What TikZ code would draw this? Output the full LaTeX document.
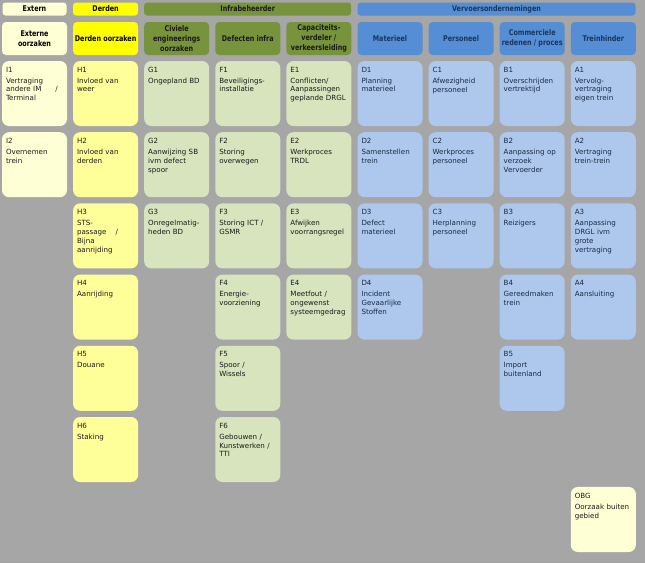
\documentclass[tikz,border=0pt]{standalone}
\usepackage{fontspec}
\newfontfamily\bodyfont{DejaVu Sans}
\newfontfamily\hdfont[FakeStretch=0.81]{DejaVu Sans}
\definecolor{bgcol}{HTML}{A6A6A6}
\definecolor{extc}{HTML}{FFFFD5}
\definecolor{derdc}{HTML}{FFFF00}
\definecolor{hcol}{HTML}{FFFF99}
\definecolor{gcol}{HTML}{D7E4BD}
\definecolor{ghead}{HTML}{77933C}
\definecolor{bhead}{HTML}{558ED5}
\definecolor{bcol}{HTML}{ADC8EC}
\definecolor{btext}{HTML}{17375E}
\definecolor{ttext}{HTML}{1A1A1A}
\definecolor{bbtext}{HTML}{1A2A44}
\tikzset{
  box/.style={shape=rectangle,inner sep=0pt,outer sep=0pt,minimum width=65pt,minimum height=65pt,rounded corners=7pt},
  lbl/.style={inner sep=0pt,outer sep=0pt,text width=60pt,align=left,font=\bodyfont\fontsize{7.1}{8.8}\selectfont},
  hdA/.style={shape=rectangle,inner sep=0pt,outer sep=0pt,minimum height=13pt,rounded corners=3pt,anchor=north west,font=\hdfont\bfseries\fontsize{7.9}{9}\selectfont},
  hdB/.style={shape=rectangle,inner sep=0pt,outer sep=0pt,minimum width=65pt,minimum height=33pt,rounded corners=4pt,anchor=north west,align=center,font=\hdfont\bfseries\fontsize{7.9}{9.7}\selectfont},
  ext/.style={fill=extc,text=ttext},
  hy/.style={fill=hcol,text=ttext},
  gr/.style={fill=gcol,text=ttext},
  bl/.style={fill=bcol,text=bbtext}
}
\newcommand\cell[6]{%
  \node[box,#4,anchor=north west] (#1) at ({2+71.1*#2},{61+71.2*#3}) {};
  \node[lbl,#4,fill=none,anchor=north west] (#1-t) at ([xshift=4pt,yshift=-6pt]#1.north west) {#5\\[2.2pt]#6};
}
\begin{document}
\begin{tikzpicture}[x=1pt,y=-1pt]
\fill[bgcol] (0,0) rectangle (645,563);
\useasboundingbox (0,0) rectangle (645,563);
% header row A
\node[hdA,fill=extc,text=black,minimum width=64pt] (hA1) at (2.5,2.5) {Extern};
\node[hdA,fill=derdc,text=black,minimum width=65pt] (hA2) at (73.1,2.5) {Derden};
\node[hdA,fill=ghead,text=ttext,minimum width=207pt] (hA3) at (144.2,2.5) {Infrabeheerder};
\node[hdA,fill=bhead,text=btext,minimum width=278pt] (hA4) at (357.5,2.5) {Vervoersondernemingen};
% header row B
\node[hdB,fill=extc,text=black] (hB1) at (2,22) {Externe\\oorzaken};
\node[hdB,fill=derdc,text=black] (hB2) at (73.1,22) {Derden oorzaken};
\node[hdB,fill=ghead,text=ttext] (hB3) at (144.2,22) {Civiele\\engineerings\\oorzaken};
\node[hdB,fill=ghead,text=ttext] (hB4) at (215.3,22) {Defecten infra};
\node[hdB,fill=ghead,text=ttext] (hB5) at (286.4,22) {Capaciteits-\\verdeler /\\verkeersleiding};
\node[hdB,fill=bhead,text=btext] (hB6) at (357.5,22) {Materieel};
\node[hdB,fill=bhead,text=btext] (hB7) at (428.6,22) {Personeel};
\node[hdB,fill=bhead,text=btext] (hB8) at (499.7,22) {Commerciele\\redenen / proces};
\node[hdB,fill=bhead,text=btext] (hB9) at (570.8,22) {Treinhinder};
% I
\cell{I1}{0}{0}{ext}{I1}{Vertraging\\andere IM\hspace{14pt}/\\Terminal}
\cell{I2}{0}{1}{ext}{I2}{Overnemen\\trein}
% H
\cell{H1}{1}{0}{hy}{H1}{Invloed van\\weer}
\cell{H2}{1}{1}{hy}{H2}{Invloed van\\derden}
\cell{H3}{1}{2}{hy}{H3}{STS-\\passage\hspace{9pt}/\\Bijna\\aanrijding}
\cell{H4}{1}{3}{hy}{H4}{Aanrijding}
\cell{H5}{1}{4}{hy}{H5}{Douane}
\cell{H6}{1}{5}{hy}{H6}{Staking}
% G
\cell{G1}{2}{0}{gr}{G1}{Ongepland BD}
\cell{G2}{2}{1}{gr}{G2}{Aanwijzing SB\\ivm defect\\spoor}
\cell{G3}{2}{2}{gr}{G3}{Onregelmatig-\\heden BD}
% F
\cell{F1}{3}{0}{gr}{F1}{Beveiligings-\\installatie}
\cell{F2}{3}{1}{gr}{F2}{Storing\\overwegen}
\cell{F3}{3}{2}{gr}{F3}{Storing ICT /\\GSMR}
\cell{F4}{3}{3}{gr}{F4}{Energie-\\voorziening}
\cell{F5}{3}{4}{gr}{F5}{Spoor /\\Wissels}
\cell{F6}{3}{5}{gr}{F6}{Gebouwen /\\Kunstwerken /\\TTI}
% E
\cell{E1}{4}{0}{gr}{E1}{Conflicten/\\Aanpassingen\\geplande DRGL}
\cell{E2}{4}{1}{gr}{E2}{Werkproces\\TRDL}
\cell{E3}{4}{2}{gr}{E3}{Afwijken\\voorrangsregel}
\cell{E4}{4}{3}{gr}{E4}{Meetfout /\\ongewenst\\systeemgedrag}
% D
\cell{D1}{5}{0}{bl}{D1}{Planning\\materieel}
\cell{D2}{5}{1}{bl}{D2}{Samenstellen\\trein}
\cell{D3}{5}{2}{bl}{D3}{Defect\\materieel}
\cell{D4}{5}{3}{bl}{D4}{Incident\\Gevaarlijke\\Stoffen}
% C
\cell{C1}{6}{0}{bl}{C1}{Afwezigheid\\personeel}
\cell{C2}{6}{1}{bl}{C2}{Werkproces\\personeel}
\cell{C3}{6}{2}{bl}{C3}{Herplanning\\personeel}
% B
\cell{B1}{7}{0}{bl}{B1}{Overschrijden\\vertrektijd}
\cell{B2}{7}{1}{bl}{B2}{Aanpassing op\\verzoek\\Vervoerder}
\cell{B3}{7}{2}{bl}{B3}{Reizigers}
\cell{B4}{7}{3}{bl}{B4}{Gereedmaken\\trein}
\cell{B5}{7}{4}{bl}{B5}{Import\\buitenland}
% A
\cell{A1}{8}{0}{bl}{A1}{Vervolg-\\vertraging\\eigen trein}
\cell{A2}{8}{1}{bl}{A2}{Vertraging\\trein-trein}
\cell{A3}{8}{2}{bl}{A3}{Aanpassing\\DRGL ivm\\grote\\vertraging}
\cell{A4}{8}{3}{bl}{A4}{Aansluiting}
% OBG
\cell{OBG}{8}{5.983}{ext}{OBG}{Oorzaak buiten\\gebied}
\end{tikzpicture}
\end{document}
